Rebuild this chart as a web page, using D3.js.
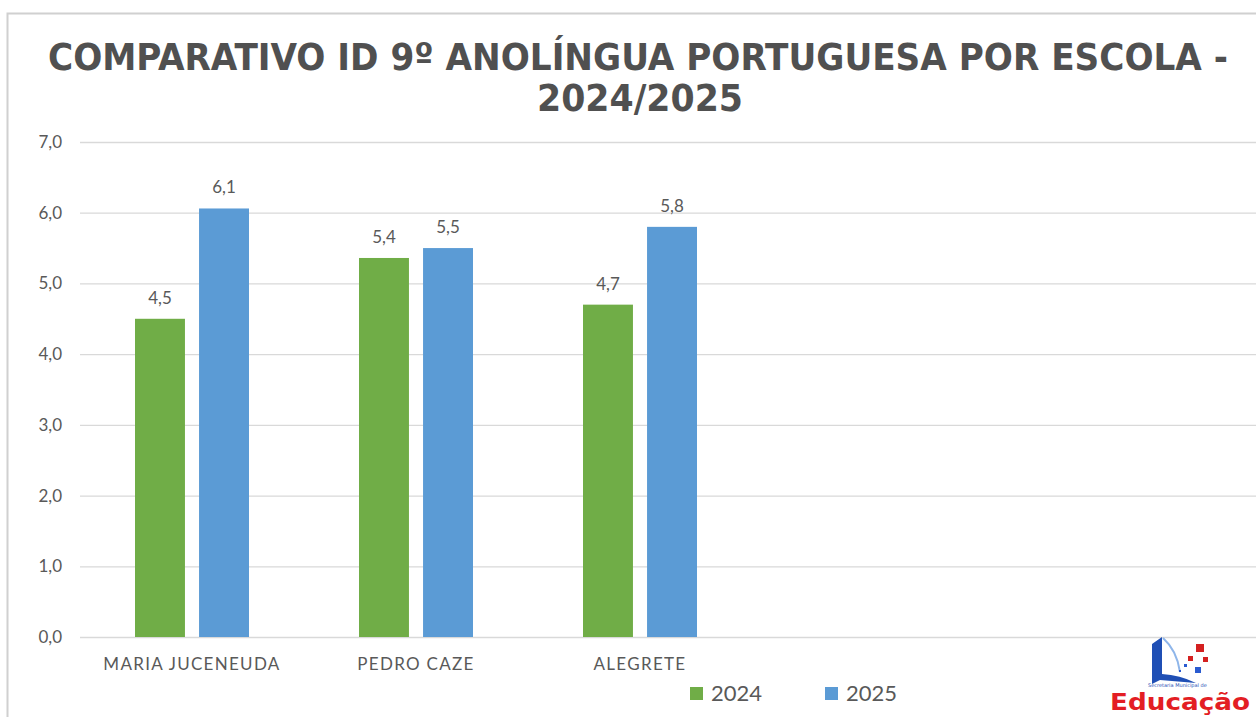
<!DOCTYPE html>
<html>
<head>
<meta charset="utf-8">
<script src="https://cdn.jsdelivr.net/npm/d3@7"></script>
<style>
  html, body { margin: 0; padding: 0; background: #fff; }
  svg { display: block; }
</style>
</head>
<body>
<svg id="chart" width="1256" height="717"></svg>
<script>
"use strict";

const categories = ["MARIA JUCENEUDA", "PEDRO CAZE", "ALEGRETE"];
const seriesNames = ["2024", "2025"];
const values2024 = [4.5, 5.36, 4.7];
const values2025 = [6.06, 5.5, 5.8];
const yTicks = [0, 1, 2, 3, 4, 5, 6, 7];
const colors = ["#70ad47", "#5b9bd5"];

const svg = d3.select("#chart");
const fmt = v => d3.format(".1f")(v).replace(".", ",");

// frame
svg.append("rect")
    .attr("x", 7.5).attr("y", 13.5)
    .attr("width", 1300).attr("height", 800)
    .attr("fill", "#fff")
    .attr("stroke", "#d0d0d0")
    .attr("stroke-width", 2);

// title
const title = svg.append("g")
    .attr("font-family", "'Liberation Sans Narrow', 'DejaVu Sans Condensed', sans-serif")
    .attr("font-weight", "bold")
    .attr("font-size", 37)
    .attr("fill", "#505050")
    .attr("text-anchor", "middle");
title.append("text")
    .attr("x", 638).attr("y", 70)
    .attr("textLength", 1180).attr("lengthAdjust", "spacingAndGlyphs")
    .text("COMPARATIVO ID 9º ANOLÍNGUA PORTUGUESA POR ESCOLA -");
title.append("text")
    .attr("x", 640).attr("y", 111)
    .attr("textLength", 206).attr("lengthAdjust", "spacingAndGlyphs")
    .text("2024/2025");

const plotLeft = 80, plotRight = 1256, plotTop = 142, plotBottom = 637;

const y = d3.scaleLinear().domain([0, 7]).range([plotBottom, plotTop]);
const x0 = d3.scaleBand().domain(categories).range([plotLeft, plotLeft + 3 * 224])
    .paddingInner(0).paddingOuter(0);
const x1 = d3.scaleBand().domain(seriesNames).range([55, 169]).paddingInner(0.22);

// grid
const grid = svg.append("g")
    .attr("transform", `translate(${plotLeft},0)`)
    .call(d3.axisLeft(y)
        .tickValues(yTicks)
        .tickSize(-(plotRight - plotLeft))
        .tickFormat(fmt)
        .tickPadding(18));
grid.select(".domain").remove();
grid.selectAll(".tick line").attr("stroke", "#d9d9d9").attr("stroke-width", 1.3);
grid.selectAll(".tick text")
    .attr("fill", "#595959")
    .attr("font-family", "Lato, 'Open Sans', sans-serif")
    .attr("font-size", 17);

const rows = categories.map((c, i) => ({ cat: c, vals: [values2024[i], values2025[i]] }));

const groups = svg.append("g").selectAll("g")
    .data(rows)
    .join("g")
    .attr("transform", d => `translate(${x0(d.cat)},0)`);

groups.selectAll("rect")
    .data(d => d.vals.map((v, j) => ({ s: seriesNames[j], v: v, j: j })))
    .join("rect")
    .attr("x", d => x1(d.s))
    .attr("y", d => y(d.v))
    .attr("width", x1.bandwidth())
    .attr("height", d => y(0) - y(d.v))
    .attr("fill", d => colors[d.j]);

groups.selectAll("text.lbl")
    .data(d => d.vals.map((v, j) => ({ s: seriesNames[j], v: v })))
    .join("text")
    .attr("class", "lbl")
    .attr("x", d => x1(d.s) + x1.bandwidth() / 2)
    .attr("y", d => y(d.v) - 15)
    .attr("text-anchor", "middle")
    .attr("fill", "#595959")
    .attr("font-family", "Lato, 'Open Sans', sans-serif")
    .attr("font-size", 17)
    .text(d => fmt(d.v));

// x axis labels
const xAxis = svg.append("g")
    .attr("transform", `translate(0,${plotBottom})`)
    .call(d3.axisBottom(x0).tickSize(0).tickPadding(21));
xAxis.select(".domain").remove();
xAxis.selectAll(".tick text")
    .attr("fill", "#595959")
    .attr("font-family", "Lato, 'Open Sans', sans-serif")
    .attr("font-size", 17)
    .attr("letter-spacing", 1.3);

// legend
const legend = svg.append("g")
    .attr("font-family", "Lato, 'Open Sans', sans-serif")
    .attr("font-size", 22)
    .attr("fill", "#595959");
const legX = d3.scaleOrdinal().domain(seriesNames).range([690, 825]);
seriesNames.forEach((s, i) => {
    legend.append("rect")
        .attr("x", legX(s)).attr("y", 687)
        .attr("width", 13).attr("height", 13)
        .attr("fill", colors[i]);
    legend.append("text")
        .attr("x", legX(s) + 21).attr("y", 701)
        .text(s);
});

// logo
const logo = svg.append("g").attr("transform", "translate(1100,630)");
logo.append("path")
    .attr("d", "M52,14 L62,7 L62,44 Q80,45 96,53 L60,50 L52,54 Z")
    .attr("fill", "#1f4fb5");
logo.append("path")
    .attr("d", "M63,8 C72,16 78,28 80,42")
    .attr("stroke", "#8fb6ea").attr("stroke-width", 2).attr("fill", "none");
[[96, 14, 8, "#d42020"], [88, 26, 5, "#d42020"], [103, 27, 5, "#d42020"], [95, 37, 6, "#2a5bd0"], [84, 34, 3, "#2a5bd0"], [79, 40, 2, "#2a5bd0"]]
    .forEach(d => logo.append("rect").attr("x", d[0]).attr("y", d[1]).attr("width", d[2]).attr("height", d[2]).attr("fill", d[3]));
logo.append("text")
    .attr("x", 48).attr("y", 57)
    .attr("font-family", "'DejaVu Sans', sans-serif")
    .attr("font-size", 5)
    .attr("fill", "#1f4fb5")
    .text("Secretaria Municipal de");
logo.append("text")
    .attr("x", 10).attr("y", 80)
    .attr("font-family", "'DejaVu Sans', sans-serif")
    .attr("font-weight", "bold")
    .attr("font-size", 23)
    .attr("textLength", 140).attr("lengthAdjust", "spacingAndGlyphs")
    .attr("fill", "#e31e24")
    .text("Educação");
</script>
</body>
</html>
